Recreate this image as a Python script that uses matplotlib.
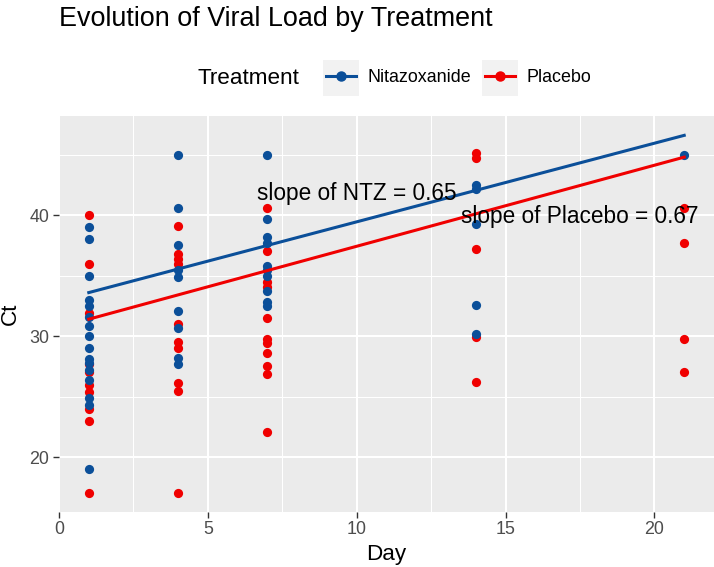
import numpy as np
import matplotlib
matplotlib.use("Agg")
import matplotlib.pyplot as plt
from matplotlib.lines import Line2D
from matplotlib.patches import Rectangle

plt.rcParams['font.family'] = ['Liberation Sans', 'DejaVu Sans']

# Ct values, per day
ntz_days = [1]*16 + [4]*9 + [7]*10 + [14]*5 + [21]
ntz_ct = [39.0, 38.0, 35.0, 33.0, 32.5, 31.6, 30.8, 30.0, 29.0, 28.1, 27.8, 27.2, 26.4, 24.9, 24.3, 19.0,
          45.0, 40.6, 37.5, 35.5, 34.9, 32.1, 30.7, 28.2, 27.7,
          45.0, 39.7, 38.2, 37.7, 35.8, 35.5, 35.0, 33.7, 32.8, 32.5,
          42.5, 42.2, 39.3, 32.6, 30.2,
          45.0]
pla_days = [1]*10 + [4]*10 + [7]*11 + [14]*5 + [21]*4
pla_ct = [40.0, 36.0, 31.9, 27.7, 27.0, 26.0, 25.4, 24.0, 23.0, 17.0,
          39.1, 36.8, 36.4, 36.0, 31.0, 29.5, 29.0, 26.1, 25.5, 17.0,
          40.6, 37.0, 34.5, 34.1, 31.5, 29.8, 29.4, 28.6, 27.5, 26.9, 22.1,
          45.1, 44.7, 37.2, 29.9, 26.2,
          40.6, 37.7, 29.8, 27.0]

# fitted lines (slope, intercept)
ntz_fit = (0.65, 32.95)
pla_fit = (0.67, 30.73)
fit_days = np.array([1, 21])

blue = '#0b4f99'
red = '#f00000'

fig = plt.figure(figsize=(7.14, 5.67), dpi=100)
ax = fig.add_axes([59/714, 1-511.5/567, (714-59)/714, (511.5-116)/567])
ax.set_facecolor('#EBEBEB')
for s in ax.spines.values():
    s.set_visible(False)

ax.set_xlim(0, 22)
ax.set_ylim(15.5, 48.2)
ax.set_xticks([0, 5, 10, 15, 20])
ax.set_xticks([2.5, 7.5, 12.5, 17.5], minor=True)
ax.set_yticks([20, 30, 40])
ax.set_yticks([25, 35, 45], minor=True)
ax.grid(which='major', color='white', lw=1.5)
ax.grid(which='minor', color='white', lw=0.75)
ax.set_axisbelow(True)
ax.tick_params(which='major', length=4, width=1, color='#333333', labelcolor='#4D4D4D',
               labelsize=12.9, pad=3)
ax.tick_params(which='minor', length=0)

ax.scatter(pla_days, pla_ct, s=44, color=red, zorder=3, linewidths=0)
ax.scatter(ntz_days, ntz_ct, s=44, color=blue, zorder=3, linewidths=0)
ax.plot(fit_days, ntz_fit[0]*fit_days + ntz_fit[1], color=blue, lw=2.2, zorder=4)
ax.plot(fit_days, pla_fit[0]*fit_days + pla_fit[1], color=red, lw=2.2, zorder=4)

ax.text(10, 41.8, 'slope of NTZ = 0.65', fontsize=16.3, ha='center', va='center', zorder=5)
ax.text(17.5, 39.9, 'slope of Placebo = 0.67', fontsize=16.3, ha='center', va='center', zorder=5)

ax.set_xlabel('Day', fontsize=16.2, labelpad=4)
ax.set_ylabel('Ct', fontsize=16.2, labelpad=6)

fig.text(59/714, 1-19/567, 'Evolution of Viral Load by Treatment', fontsize=19.4, va='center', ha='left')

ly = 1-78/567
fig.text(197/714, ly, 'Treatment', fontsize=16.2, va='center', ha='left')
handles = [Line2D([0], [0], color=blue, lw=2.2, marker='o', ms=6.5),
           Line2D([0], [0], color=red, lw=2.2, marker='o', ms=6.5)]
leg = fig.legend(handles, ['Nitazoxanide', 'Placebo'], ncol=2, loc='center left',
                 bbox_to_anchor=(317/714, ly), frameon=False, fontsize=12.9,
                 handlelength=1.65, handletextpad=0.65, columnspacing=0.8, borderpad=0)

# grey key backgrounds like ggplot's legend keys
fig.canvas.draw()
for h in leg.legend_handles:
    bb = h.get_window_extent()
    cx = (bb.x0 + bb.x1) / 2
    fig.patches.append(Rectangle(((cx-18)/714, ly-18/567), 36/714, 36/567, transform=fig.transFigure,
                                 facecolor='#F2F2F2', edgecolor='none', zorder=0))

fig.savefig('out.png', dpi=100)
